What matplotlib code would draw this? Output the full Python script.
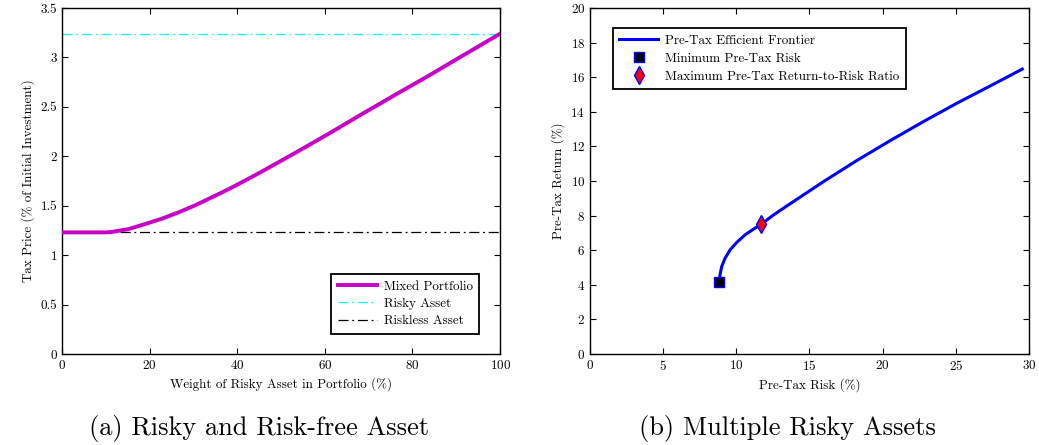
import matplotlib
matplotlib.use('Agg')
import matplotlib.pyplot as plt

plt.rcParams['font.family'] = ['cmr10', 'DejaVu Serif']
plt.rcParams['axes.formatter.use_mathtext'] = True
plt.rcParams['mathtext.fontset'] = 'cm'

# Left panel: tax price vs weight of risky asset
weight = [0, 5, 10, 11.4, 15.2, 19.0, 22.8, 26.6, 30.4, 34.2, 38.1, 41.9, 45.7,
          53.3, 60.9, 68.5, 76.1, 83.7, 91.3, 100]
tax_price = [1.23, 1.23, 1.23, 1.235, 1.264, 1.315, 1.369, 1.433, 1.504, 1.585, 1.669, 1.757, 1.848,
             2.036, 2.229, 2.428, 2.623, 2.815, 3.014, 3.24]
risky_level = 3.24
riskless_level = 1.23

# Right panel: pre-tax efficient frontier
risk = [8.82, 8.89, 9.00, 9.23, 9.57, 10.03, 10.59, 11.16, 11.69, 12.53, 13.44,
        15.95, 18.23, 20.51, 22.78, 25.06, 27.34, 29.55]
ret = [4.16, 4.57, 5.05, 5.53, 6.01, 6.45, 6.88, 7.21, 7.49, 8.03, 8.55,
       9.96, 11.18, 12.33, 13.43, 14.49, 15.49, 16.47]
min_risk = (8.82, 4.14)
max_ratio = (11.69, 7.49)

fig = plt.figure(figsize=(10.39, 4.45), dpi=100)
ax1 = fig.add_axes([0.0597, 0.2045, 0.4216, 0.7775])
ax2 = fig.add_axes([0.5678, 0.2045, 0.4225, 0.7775])

fs = 9.4

def style(ax):
    ax.tick_params(direction='in', top=True, right=True, labelsize=fs, length=4, width=0.8)
    for s in ax.spines.values():
        s.set_linewidth(1.0)

ax1.plot(weight, tax_price, color='#c800c8', lw=2.8, label='Mixed Portfolio', zorder=3)
ax1.axhline(risky_level, color='cyan', lw=0.9, ls='-.', dashes=(8, 3, 1.5, 3), label='Risky Asset')
ax1.axhline(riskless_level, color='black', lw=0.9, ls='-.', dashes=(8, 3, 1.5, 3), label='Riskless Asset')
ax1.set_xlim(0, 100)
ax1.set_ylim(0, 3.5)
ax1.set_xticks([0, 20, 40, 60, 80, 100])
ax1.set_yticks([0, 0.5, 1, 1.5, 2, 2.5, 3, 3.5])
ax1.set_yticklabels(['0', '0.5', '1', '1.5', '2', '2.5', '3', '3.5'])
ax1.set_xlabel('Weight of Risky Asset in Portfolio (%)', fontsize=fs)
ax1.set_ylabel('Tax Price (% of Initial Investment)', fontsize=fs)
style(ax1)
leg1 = ax1.legend(loc='lower right', bbox_to_anchor=(0.952, 0.058), borderaxespad=0, fontsize=fs,
                  fancybox=False, framealpha=1, edgecolor='black', borderpad=0.5, labelspacing=0.4,
                  handlelength=3.0, handletextpad=0.5)
leg1.get_frame().set_linewidth(1.3)

ax2.plot(risk, ret, color='#0000ff', lw=2.2, label='Pre-Tax Efficient Frontier', zorder=2)
ax2.plot([min_risk[0]], [min_risk[1]], ls='none', marker='s', ms=7.5, mfc='black', mec='#0000ff',
         mew=1, label='Minimum Pre-Tax Risk', zorder=3)
ax2.plot([max_ratio[0]], [max_ratio[1]], ls='none', marker='d', ms=9, mfc='red', mec='#0000ff',
         mew=1, label='Maximum Pre-Tax Return-to-Risk Ratio', zorder=3)
ax2.set_xlim(0, 30)
ax2.set_ylim(0, 20)
ax2.set_xticks([0, 5, 10, 15, 20, 25, 30])
ax2.set_yticks(range(0, 21, 2))
ax2.set_xlabel('Pre-Tax Risk (%)', fontsize=fs)
ax2.set_ylabel('Pre-Tax Return (%)', fontsize=fs)
style(ax2)
leg2 = ax2.legend(loc='upper left', bbox_to_anchor=(0.052, 0.942), borderaxespad=0, fontsize=fs,
                  fancybox=False, framealpha=1, edgecolor='black', borderpad=0.5, labelspacing=0.45,
                  handlelength=3.0, handletextpad=0.5)
leg2.get_frame().set_linewidth(1.3)

fig.text(0.249, 0.038, '(a) Risky and Risk-free Asset', fontsize=19, ha='center', va='center')
fig.text(0.758, 0.038, '(b) Multiple Risky Assets', fontsize=19, ha='center', va='center')

fig.savefig('out.png', dpi=100)
